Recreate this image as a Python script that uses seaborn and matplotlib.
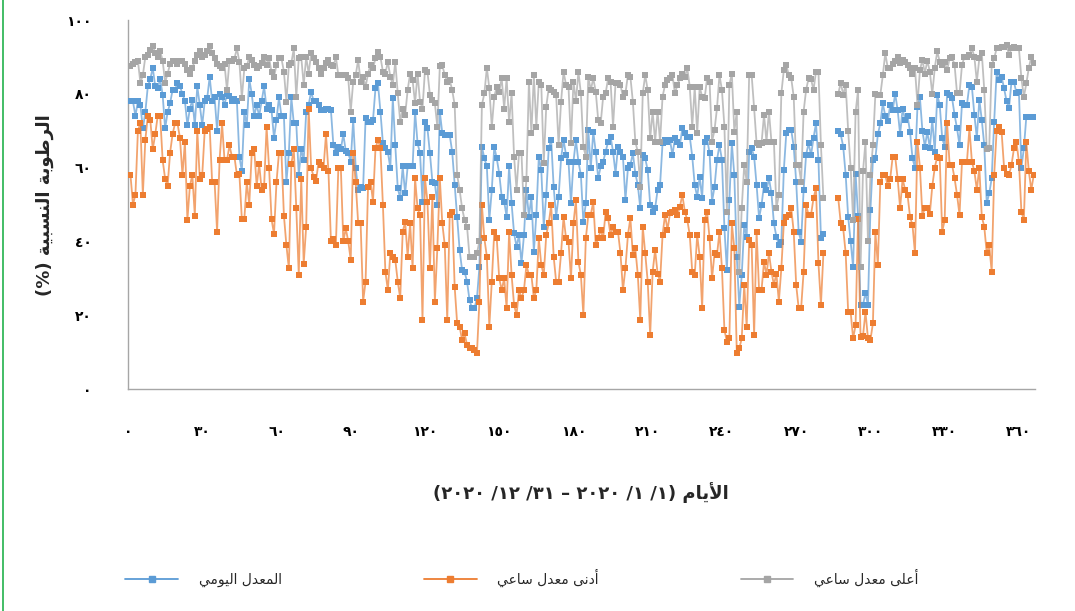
import re
import numpy as np
import pandas as pd
import matplotlib
matplotlib.use("Agg")
import matplotlib.pyplot as plt
from matplotlib.lines import Line2D
import seaborn as sns

# ---------------- data ----------------
days = list(range(1, 367))

max_rh_a = [87.4, 88, 88.5, 89, 83, 85, 90, 90.5, 92, 93, 91, 90, 91.5, 89, 83, 85.5, 88, 89, 89, 88,
            89, 89, 88, 86.5, 85.5, 87, 89, 90.5, 91.5, 90, 90.5, 91.5, 93, 91, 89.6, 88, 87.4, 87, 88, 81,
            89, 89, 89.5, 92.3]
max_rh_b = [88.7, 78.8, 86.9, 87.4, 90, 89.2, 87.8, 86.9, 87.4, 88.3, 90, 87.8, 89.6, 86, 84.6, 87.8,
            89.6, 89.6, 86, 77.9, 87.8, 88.3, 92.3, 79.2, 89.6, 90, 82.4, 90, 85.5, 91, 89.6, 88.7, 86.9,
            85.5, 86.9, 88.3, 89.2, 87.8, 87.4, 90, 85, 85, 85, 85, 84.2, 75.2, 83.3, 85, 89.2]
max_rh_c = [83.3, 84.6, 81.9, 85.5, 87.8, 86.9, 89.6, 91.4, 90, 86, 85.5, 88.7, 84.6, 82.4, 88.7, 80.1,
            72.4, 76, 74.3, 81, 85.5, 83.7, 77.4, 85.5, 77.9, 76, 86.4, 86, 79.7, 78.3, 77.4, 71.1, 87.4,
            87.8, 85, 83.3, 83.7, 81, 77, 58, 54, 49, 45.8, 44, 35.9, 35.9, 35.9]
max_rh_d = [36.8, 40, 77, 80.1, 87, 81.5, 71, 79.2, 81.9, 80.6, 84.2, 76, 84.2, 72.3, 80.1, 63, 54, 63.9,
            63.9, 47.2, 57, 83.3, 69.3, 85, 71.1, 83.3, 82.4, 61.2, 76.5, 81.5, 81, 80.6, 79.7, 66.1, 77.9,
            86, 82.4, 81.9, 66.6, 83.3, 78, 86, 80.1, 65.7, 63, 84.6]
max_rh_e = [81, 84.2, 80.6, 72.9, 72, 79.2, 80.1, 84.2, 83.3, 71.1, 82.8, 82.8, 82.4, 79.2, 80.1, 85.1,
            84.6, 77.9, 67, 64.3, 54.8, 80.1, 85.1, 81, 67.9, 75.2, 67, 75.2, 67, 79.2, 82.4, 83.7, 84.2,
            85.1, 80.1, 82.4, 84.2, 85.5, 84.6, 86.9, 81.9, 71.1, 81.9, 69.3, 81.9, 79.2, 78.8]
max_rh_f = [84.2, 83.3, 67, 70.2, 76.1, 85.1, 81, 71.1, 48.1, 82.4, 85.5, 69.7, 75.2, 31.8, 49, 60.7,
            56.2, 85.1, 85.1, 76.1, 66.6, 66.1, 66.6, 74.3, 67, 75.2, 67, 67, 49, 52.6, 80.1, 86.4, 87.8,
            85.1, 84.2, 79.2, 60.7, 60.7, 56.2, 75.2, 81, 84.2, 84, 81, 86, 86, 66, 51.7]
max_rh_g = [None, None, None, None, None,
            80, 83, 79.7, 82.4, 70, 60, 45.8, 75, 81, 33, 59, 67, 40, 58, 66, 80, 79.7, 79.7, 85, 91, 87,
            87, 88, 89, 90, 88.3, 89.2, 88.7, 87.8, 86.9, 85.5, 86.9, 77, 86.4, 89.2, 85.5]
max_rh_h = [89, 86, 80, 87, 91.5, 88.7, 87.8, 88.7, 86.4, 89.6, 90, 87.8, 80.1, 80.1, 87.8, 90, 90, 90.5,
            92.3, 90, 83.3, 89.6, 91, 81, 65, 65.2, 87.8, 89.6, 92.3, 92.3, 92.8, 92.8, 93.2, 90.5, 92.3,
            92.8, 92.3, 92.3, 84.2, 79.2, 82.8, 87, 90, 88.3]

mean_rh_a = [78, 78, 74, 78, 77, 70.6, 75, 82, 84, 87, 82, 81.5, 84, 79.7, 70.6, 75, 77.4, 81, 81, 83,
             82, 80, 78, 71.5, 76, 78.3, 71.5, 82, 77, 71.5, 78, 78.8, 84.6, 78, 79, 70, 80, 79, 77, 80,
             79.5, 78, 78.5, 78]
mean_rh_b = [63, 59, 75, 71.5, 84, 80, 74, 77, 74, 78, 82, 76, 77, 75.5, 68, 73, 79, 74, 74, 56, 64, 79,
             72, 72, 58, 65, 62, 75, 77, 80.6, 78, 78, 77, 75.5, 75.5, 76, 76, 75.5, 66, 64, 65.5, 65, 69,
             64.5, 64, 61.6, 73, 60, 54]
mean_rh_c = [54.8, 54.4, 73.4, 72.4, 72.4, 72.9, 81.5, 82.8, 75.2, 66.6, 65.2, 64.3, 59.8, 78.8, 66.1,
             54.4, 51.7, 60.3, 53, 60.3, 60.3, 60.3, 75.2, 66.6, 63.9, 50.8, 72.4, 70.6, 63.9, 56.2, 55.7,
             50, 75.2, 69.3, 68.8, 68.8, 68.8, 64.3, 55.3, 46.7, 37.7, 32.2, 31.8, 29.1, 24.1, 21.9, 21.9]
mean_rh_d = [24.6, 33, 65.7, 62.5, 60.3, 45.8, 53.9, 65.7, 62.5, 58.4, 52.1, 50.8, 46.7, 60.3, 50.3,
             42.2, 38.6, 41.7, 34.1, 41.7, 53.9, 46.7, 52.1, 37.2, 47.2, 63, 59.3, 44, 52.6, 65.2, 67.5,
             54.8, 46.7, 52.1, 62.5, 67.5, 63.4, 61.6, 50.3, 61.6, 67.5, 61.6, 58, 45.3, 50.3, 70.2]
mean_rh_e = [59.8, 69.7, 64.3, 57.1, 60.3, 61.6, 64.3, 67, 68.4, 64.3, 58.4, 65.7, 64.3, 63, 51.2, 59.8,
             60.7, 63.9, 58.4, 55.3, 49, 63.4, 62.5, 59.3, 49.9, 48.1, 49, 53.9, 55.3, 66.6, 67.5, 67, 67.5,
             63.4, 67.9, 67, 66.1, 70.6, 69.3, 68.4, 68.4, 63, 55.3, 52.1, 57.5, 51.7, 67]
mean_rh_f = [67.9, 63.9, 50.8, 54.8, 62.1, 66.1, 62.1, 43.5, 32.2, 51.2, 66.6, 58, 35.9, 22.3, 30.9, 44.4,
             41.3, 64.3, 65.2, 63, 55.3, 46.3, 49.9, 55.3, 53.9, 57.1, 53, 44.9, 41.3, 39, 39.9, 59.3, 69.3,
             70.2, 70.2, 65.7, 56.2, 42.6, 39.9, 53.9, 63.4, 66.6, 63.4, 68, 72, 62, 41, 42]
mean_rh_g = [None, None, None, None, None,
             70, 69, 65.7, 58, 46.7, 40, 33, 58.4, 47, 22.8, 22.8, 26, 22.8, 48.5, 62, 62.5, 69, 72, 77.4,
             74, 72.5, 77, 75.6, 80, 75.6, 69, 76, 73, 74, 69.7, 62.5, 60, 76.5, 79, 70, 65.7]
mean_rh_h = [69.7, 65.2, 73, 64.3, 79.7, 77, 68, 65.7, 80.1, 79.7, 78.8, 74.3, 70.6, 66.1, 77.4, 77, 77,
             82.4, 81.9, 74.3, 68, 78.4, 72.9, 66.1, 50.3, 53, 57.1, 72.4, 86, 83.7, 84.6, 81.5, 78, 76.1,
             83.3, 83.3, 80.1, 80.6, 60, 65.2, 73.8, 73.8, 73.8, 73.8]

min_rh_a = [58, 50, 52.6, 70, 72, 52.6, 67.5, 74, 73, 65, 69, 74, 74, 62, 57, 55, 64, 69, 72, 72, 68, 58,
            67, 45.8, 55, 58, 47, 70, 57, 58, 70, 70.5, 71, 56, 56, 42.6, 62, 72, 62, 62, 66, 63, 63, 58]
min_rh_b = [58.4, 46, 46, 56, 50, 64, 65, 55, 61, 54, 55, 71, 60, 46, 42, 56, 64, 64, 47, 39, 32.7, 61, 65,
            49, 31, 57, 34, 44, 76, 60, 57.5, 56.5, 61.6, 60.7, 59.8, 69, 59, 40, 40.7, 39, 60, 60, 40,
            43.5, 40, 35, 64, 56, 45]
min_rh_c = [44.9, 23.7, 29.1, 54.8, 56.2, 50.8, 65.2, 67.5, 65.2, 49.9, 31.8, 26.8, 36.8, 35.9, 35, 29.1,
            24.6, 42.6, 45.3, 35.9, 44.9, 32.7, 57.1, 49, 47.2, 18.7, 57.1, 50.8, 32.7, 52.1, 23.7, 38.1,
            57.1, 44.9, 39, 18.7, 47.2, 48.1, 27.7, 17.8, 16.9, 13.3, 15.1, 11.9, 11, 11, 10.6]
min_rh_d = [9.7, 23.7, 49.9, 40.8, 35.9, 16.9, 29.1, 42.6, 40.8, 30, 26.8, 30, 21.9, 42.6, 30.9, 22.8,
            20.1, 26.8, 24.6, 26.8, 33.6, 30.9, 30.9, 24.6, 26.8, 40.8, 33.6, 30.9, 41.7, 44.9, 49.9, 35.9,
            29.1, 29.1, 36.8, 46.7, 40.8, 39.9, 30, 44.9, 51.2, 34.5, 30.9, 20.1, 40.8, 47.2]
min_rh_e = [47.2, 50.8, 39, 40.8, 43.1, 40.8, 48.1, 46.3, 41.7, 44, 42.6, 42.6, 36.8, 26.8, 32.7, 41.7,
            46.3, 36.3, 38.1, 30.9, 18.7, 44, 36.8, 29.1, 14.6, 31.8, 37.7, 31.3, 29.1, 41.7, 47.2, 43.1,
            47.6, 48.1, 48.5, 47.2, 49.4, 52.6, 48.1, 45.8, 41.7, 31.8, 30.9, 41.7, 35.9, 21.9, 45.8]
min_rh_f = [48.1, 40.8, 30, 36.8, 36.3, 42.6, 32.7, 16, 12.8, 13.7, 44.9, 38.1, 9.7, 11, 13.7, 28.2, 16.9,
            40.4, 39, 14.6, 42.6, 26.8, 26.8, 34.5, 30.9, 36.8, 31.8, 28.2, 31.3, 23.7, 32.7, 44.9, 46.7,
            47.2, 49, 42.6, 28.2, 21.9, 21.9, 31.8, 49.9, 47.2, 47.2, 51.7, 54.4, 34.1, 22.8, 36.8]
min_rh_g = [None, None, None, None, None,
            51.7, 45, 43.5, 36.8, 20.9, 20.9, 13.7, 17.3, 46, 14, 14.4, 20.9, 13.7, 13.3, 17.8, 42.6, 33.6,
            56, 58, 58, 55, 57, 63, 63, 57, 49, 57, 54, 52.6, 46.7, 44.4, 36.8, 67, 60, 47, 49]
min_rh_h = [49, 47.5, 55, 60, 63, 62.5, 42.6, 45.8, 72, 60.7, 60.7, 57.1, 52.6, 47.2, 61.6, 61.6, 61.6,
            70.6, 61.6, 59, 54, 60, 46.7, 44, 36.8, 39, 31.8, 58, 70, 71, 69.7, 60, 58.4, 58, 60.7, 65.2, 67,
            61.6, 48.1, 45.8, 67, 59, 54, 58]

xtick_values = [0, 30, 60, 90, 120, 150, 180, 210, 240, 270, 300, 330, 360]
xtick_labels = ['٠', '٣٠', '٦٠', '٩٠', '١٢٠', '١٥٠', '١٨٠', '٢١٠', '٢٤٠', '٢٧٠', '٣٠٠', '٣٣٠', '٣٦٠']
ytick_values = [0, 20, 40, 60, 80, 100]
ytick_labels = ['٠', '٢٠', '٤٠', '٦٠', '٨٠', '١٠٠']

series_names = ['المعدل اليومي', 'أدنى معدل ساعي', 'أعلى معدل ساعي']
y_title = 'الرطوبة النسبية (%)'
x_title = 'الأيام (١/ ١/ ٢٠٢٠ – ٣١/ ١٢/ ٢٠٢٠)'

mean_rh = mean_rh_a + mean_rh_b + mean_rh_c + mean_rh_d + mean_rh_e + mean_rh_f + mean_rh_g + mean_rh_h
min_rh = min_rh_a + min_rh_b + min_rh_c + min_rh_d + min_rh_e + min_rh_f + min_rh_g + min_rh_h
max_rh = max_rh_a + max_rh_b + max_rh_c + max_rh_d + max_rh_e + max_rh_f + max_rh_g + max_rh_h

# ---------------- Arabic shaping (no external libs) ----------------
FORMS = {
    '\u0627': ('\uFE8D', '\uFE8E', None, None),
    '\u0623': ('\uFE83', '\uFE84', None, None),
    '\u0628': ('\uFE8F', '\uFE90', '\uFE91', '\uFE92'),
    '\u0629': ('\uFE93', '\uFE94', None, None),
    '\u062F': ('\uFEA9', '\uFEAA', None, None),
    '\u0631': ('\uFEAD', '\uFEAE', None, None),
    '\u0633': ('\uFEB1', '\uFEB2', '\uFEB3', '\uFEB4'),
    '\u0637': ('\uFEC1', '\uFEC2', '\uFEC3', '\uFEC4'),
    '\u0639': ('\uFEC9', '\uFECA', '\uFECB', '\uFECC'),
    '\u0644': ('\uFEDD', '\uFEDE', '\uFEDF', '\uFEE0'),
    '\u0645': ('\uFEE1', '\uFEE2', '\uFEE3', '\uFEE4'),
    '\u0646': ('\uFEE5', '\uFEE6', '\uFEE7', '\uFEE8'),
    '\u0648': ('\uFEED', '\uFEEE', None, None),
    '\u0649': ('\uFEEF', '\uFEF0', None, None),
    '\u064A': ('\uFEF1', '\uFEF2', '\uFEF3', '\uFEF4'),
}
LAM_ALEF = {'\u0627': ('\uFEFB', '\uFEFC'), '\u0623': ('\uFEF7', '\uFEF8')}


def _joins_next(c):
    f = FORMS.get(c)
    return f is not None and f[2] is not None


def shape(s):
    res, i, n = [], 0, len(s)
    while i < n:
        c = s[i]
        prev_j = i > 0 and _joins_next(s[i - 1])
        if c == '\u0644' and i + 1 < n and s[i + 1] in LAM_ALEF:
            iso, fin = LAM_ALEF[s[i + 1]]
            res.append(fin if prev_j else iso)
            i += 2
            continue
        if c in FORMS:
            iso, fin, ini, med = FORMS[c]
            nxt_ok = i + 1 < n and s[i + 1] in FORMS and ini is not None
            if prev_j and nxt_ok:
                res.append(med)
            elif prev_j:
                res.append(fin)
            elif nxt_ok:
                res.append(ini)
            else:
                res.append(iso)
        else:
            res.append(c)
        i += 1
    return ''.join(res)


def rtl(s):
    v = shape(s)[::-1]
    v = v.translate(str.maketrans('()', ')('))
    return re.sub(r'[\u0660-\u0669]+', lambda m: m.group(0)[::-1], v)


# ---------------- plotting ----------------
sns.set_theme(style='white')
plt.rcParams['font.family'] = ['DejaVu Sans']

df = pd.DataFrame({'day': days,
                   'mean': np.array(mean_rh, dtype=float),
                   'min': np.array(min_rh, dtype=float),
                   'max': np.array(max_rh, dtype=float)})
df['seg'] = (df['day'] > 281).astype(int)

W, H = 1075, 611
fig = plt.figure(figsize=(W / 100, H / 100), dpi=100)
ax = fig.add_axes([128 / W, 1 - 389 / H, (1035 - 128) / W, (389 - 20) / H])

colors = ['#5B9BD5', '#ED7D31', '#A5A5A5']
cols = ['mean', 'min', 'max']
for k, (col, c) in enumerate(zip(cols, colors)):
    sub = df.dropna(subset=[col])
    sns.lineplot(data=sub, x='day', y=col, units='seg', estimator=None, color=c,
                 linewidth=1.3, alpha=0.7, ax=ax, zorder=2 + 2 * k)
    sns.scatterplot(data=sub, x='day', y=col, marker='s', s=22, color=c,
                    linewidth=0, ax=ax, zorder=3 + 2 * k)

ax.set_xlim(0, 366.5)
ax.set_ylim(0, 100)
ax.set_xticks(xtick_values)
ax.set_xticklabels(xtick_labels, fontsize=10, fontweight='bold')
ax.set_yticks(ytick_values)
ax.set_yticklabels(ytick_labels, fontsize=10, fontweight='bold')
ax.set_xlabel('')
ax.set_ylabel('')
for side in ['top', 'right']:
    ax.spines[side].set_visible(False)
for side in ['left', 'bottom']:
    ax.spines[side].set_color('#A6A6A6')
    ax.spines[side].set_linewidth(1.0)
ax.tick_params(axis='both', direction='out', length=4, width=1, color='#A6A6A6',
               labelcolor='black', pad=22)
ax.grid(False)

fig.text(45 / W, 1 - 205 / H, rtl(y_title), rotation=90, ha='center', va='center',
         fontsize=13, fontweight='bold')
fig.text(581 / W, 1 - 493 / H, rtl(x_title), ha='center', va='center',
         fontsize=13, fontweight='bold')

handles = [Line2D([], [], color=c, marker='s', markersize=5, linewidth=1.3) for c in colors]
fig.legend(handles, [rtl(n) for n in series_names], loc='center',
           bbox_to_anchor=(522 / W, 1 - 578 / H), ncol=3, frameon=False, fontsize=10,
           handlelength=3.8, handletextpad=1.5, columnspacing=10.2)

fig.add_artist(Line2D([2.5 / W, 2.5 / W], [0, 1], color='#22B14C', linewidth=1.2))

fig.savefig('out.png', dpi=100, facecolor='white')
